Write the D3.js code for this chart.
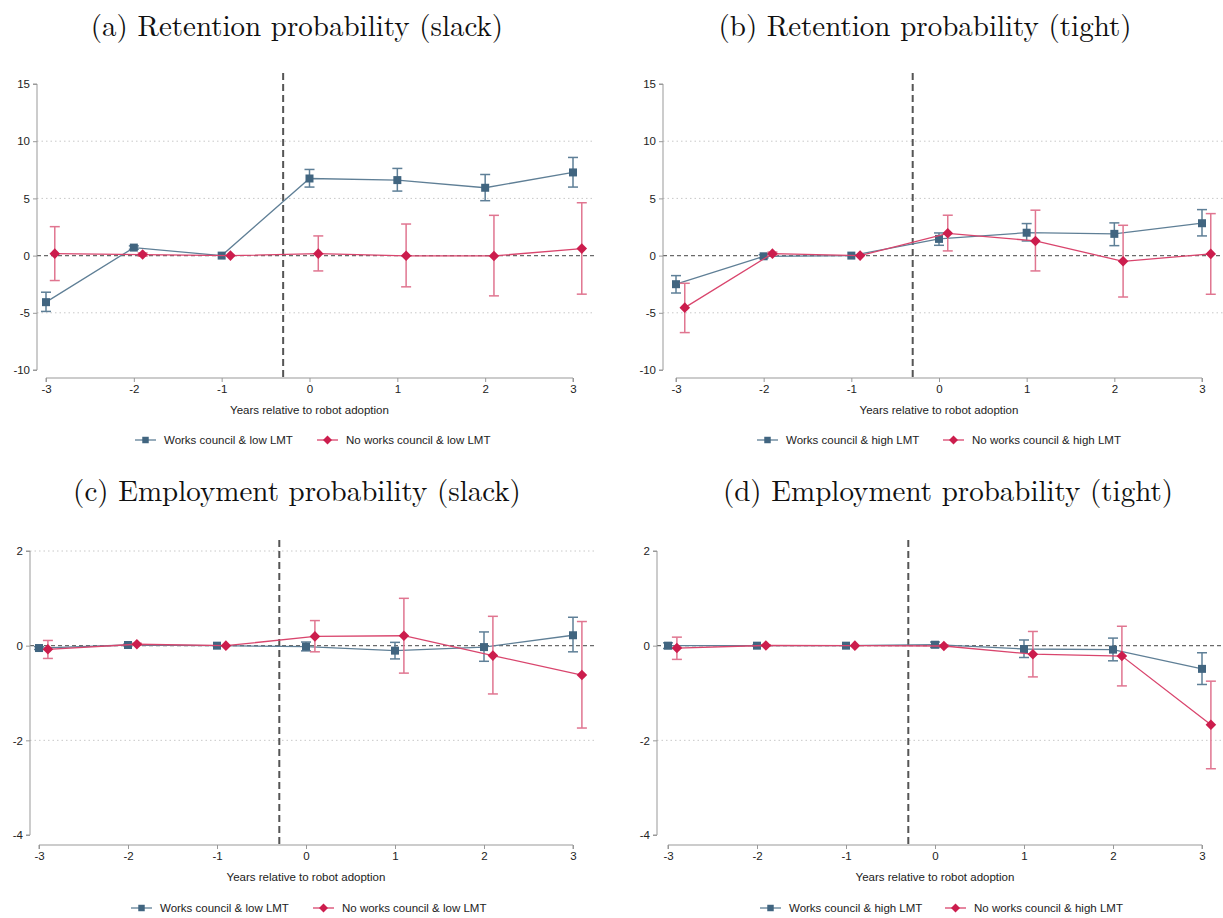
<!DOCTYPE html>
<html><head><meta charset="utf-8">
<script src="https://cdn.jsdelivr.net/npm/d3@7"></script>
<style>body{margin:0;background:#fff}svg{display:block}</style>
</head><body>
<svg id="c" width="1223" height="918"></svg>
<script>
// ---------- data ----------
const years = [-3, -2, -1, 0, 1, 2, 3];
const xTickLabels = ["-3", "-2", "-1", "0", "1", "2", "3"];
const ticksRet = [15, 10, 5, 0, -5, -10];
const ticksEmp = [2, 0, -2, -4];
const titles = ["(a) Retention probability (slack)", "(b) Retention probability (tight)",
                "(c) Employment probability (slack)", "(d) Employment probability (tight)"];
const legendBlue = ["Works council & low LMT", "Works council & high LMT", "Works council & low LMT", "Works council & high LMT"];
const legendRed = ["No works council & low LMT", "No works council & high LMT", "No works council & low LMT", "No works council & high LMT"];
const xTitle = "Years relative to robot adoption";
const adoptionLine = -0.3;

// (a) retention slack
const aBlue   = [-4.07, 0.70, 0, 6.74, 6.60, 5.93, 7.27];
const aBlueLo = [-4.88, 0.55, 0, 5.99, 5.64, 4.80, 5.99];
const aBlueHi = [-3.20, 0.85, 0, 7.53, 7.62, 7.09, 8.58];
const aRed    = [0.17, 0.09, 0, 0.17, -0.02, -0.03, 0.61];
const aRedLo  = [-2.18, -0.05, 0, -1.34, -2.73, -3.52, -3.37];
const aRedHi  = [2.53, 0.23, 0, 1.72, 2.76, 3.52, 4.62];
// (b) retention tight
const bBlue   = [-2.50, -0.06, 0, 1.46, 2.00, 1.90, 2.83];
const bBlueLo = [-3.27, -0.20, 0, 0.90, 1.28, 0.87, 1.72];
const bBlueHi = [-1.75, 0.08, 0, 1.98, 2.80, 2.86, 4.02];
const bRed    = [-4.55, 0.17, 0, 1.95, 1.28, -0.50, 0.15];
const bRedLo  = [-6.73, 0.03, 0, 0.41, -1.34, -3.62, -3.38];
const bRedHi  = [-2.42, 0.31, 0, 3.53, 3.97, 2.65, 3.67];
// (c) employment slack
const cBlue   = [-0.05, 0.014, 0, -0.02, -0.105, -0.03, 0.22];
const cBlueLo = [-0.08, 0.0, 0, -0.11, -0.28, -0.33, -0.13];
const cBlueHi = [-0.02, 0.03, 0, 0.077, 0.07, 0.29, 0.60];
const cRed    = [-0.077, 0.03, 0, 0.196, 0.21, -0.21, -0.62];
const cRedLo  = [-0.27, 0.01, 0, -0.13, -0.58, -1.02, -1.74];
const cRedHi  = [0.11, 0.05, 0, 0.53, 1.00, 0.62, 0.51];
// (d) employment tight
const dBlue   = [0.0, 0.0, 0, 0.02, -0.07, -0.084, -0.49];
const dBlueLo = [-0.06, -0.01, 0, -0.04, -0.25, -0.32, -0.82];
const dBlueHi = [0.06, 0.01, 0, 0.077, 0.12, 0.16, -0.15];
const dRed    = [-0.05, 0.005, 0, -0.007, -0.18, -0.22, -1.67];
const dRedLo  = [-0.29, -0.01, 0, -0.02, -0.66, -0.85, -2.60];
const dRedHi  = [0.18, 0.02, 0, 0.01, 0.30, 0.41, -0.75];

// ---------- layout ----------
const panels = [
  {title: titles[0], blue: [aBlue, aBlueLo, aBlueHi], red: [aRed, aRedLo, aRedHi], ticks: ticksRet, grid: [10, 5, -5],
   x0: 46, x1: 573, yAxisX: 37, yT: 84, yB: 370, xAxisY: 378, gridR: 595, vTop: 73, titleX: 297, titleY: 36, legY: 440,
   legB: 135, legR: 317},
  {title: titles[1], blue: [bBlue, bBlueLo, bBlueHi], red: [bRed, bRedLo, bRedHi], ticks: ticksRet, grid: [10, 5, -5],
   x0: 676, x1: 1202, yAxisX: 663, yT: 84, yB: 370, xAxisY: 378, gridR: 1223, vTop: 73, titleX: 925, titleY: 36, legY: 440,
   legB: 757, legR: 943},
  {title: titles[2], blue: [cBlue, cBlueLo, cBlueHi], red: [cRed, cRedLo, cRedHi], ticks: ticksEmp, grid: [2, -2],
   x0: 39, x1: 573, yAxisX: 30, yT: 551, yB: 835, xAxisY: 845, gridR: 595, vTop: 540, titleX: 297, titleY: 501, legY: 908,
   legB: 131, legR: 313},
  {title: titles[3], blue: [dBlue, dBlueLo, dBlueHi], red: [dRed, dRedLo, dRedHi], ticks: ticksEmp, grid: [-2],
   x0: 668, x1: 1202, yAxisX: 657, yT: 551, yB: 835, xAxisY: 845, gridR: 1223, vTop: 540, titleX: 948, titleY: 501, legY: 908,
   legB: 760, legR: 945}
];
const BLUE = {mark: "#416580", line: "#5f7f96", ci: "#5e7f97"};
const RED = {mark: "#cc1d4d", line: "#d9456d", ci: "#e07590"};
const sans = "'Liberation Sans', Arial, sans-serif";
const svg = d3.select("#c");

panels.forEach((p, i) => {
  const g = svg.append("g");
  const x = d3.scaleLinear().domain([-3, 3]).range([p.x0, p.x1]);
  const t = p.ticks;
  const y = d3.scaleLinear().domain([t[t.length - 1], t[0]]).range([p.yB, p.yT]);

  // title
  g.append("text").attr("x", p.titleX).attr("y", p.titleY).attr("text-anchor", "middle")
    .attr("font-family", "'Latin Modern Roman','CMU Serif','Liberation Serif',serif").attr("font-size", 29)
    .attr("fill", "#111").text(p.title);

  // gridlines
  g.selectAll(".grid").data(p.grid).join("line")
    .attr("x1", p.yAxisX).attr("x2", p.gridR).attr("y1", d => y(d)).attr("y2", d => y(d))
    .attr("stroke", "#c8c8c8").attr("stroke-width", 1).attr("stroke-dasharray", "1.5,3");
  // zero line
  g.append("line").attr("x1", p.yAxisX).attr("x2", p.gridR).attr("y1", y(0)).attr("y2", y(0))
    .attr("stroke", "#6a6a6a").attr("stroke-width", 1.1).attr("stroke-dasharray", "4,3");

  // y axis
  const ya = d3.axisLeft(y).tickValues(t).tickSize(4).tickPadding(3).tickFormat(d3.format("d"));
  const yg = g.append("g").attr("transform", `translate(${p.yAxisX},0)`).call(ya);
  yg.select(".domain").attr("stroke", "#999").attr("d", `M-4,${y(t[0])}H0V${y(t[t.length - 1])}H-4`);
  yg.selectAll(".tick line").attr("stroke", "#999");
  yg.selectAll("text").attr("font-family", sans).attr("font-size", 11.5).attr("fill", "#222").text(d => String(d));

  // x axis
  const xa = d3.axisBottom(x).tickValues(years).tickSize(4).tickPadding(3).tickFormat((d, k) => xTickLabels[k]);
  const xg = g.append("g").attr("transform", `translate(0,${p.xAxisY})`).call(xa);
  xg.select(".domain").attr("stroke", "#999").attr("d", `M${x(-3)},4V0H${x(3)}V4`);
  xg.selectAll(".tick line").attr("stroke", "#999");
  xg.selectAll("text").attr("font-family", sans).attr("font-size", 11.5).attr("fill", "#222");
  g.append("text").attr("x", (x(-3) + x(3)) / 2).attr("y", p.xAxisY + 36).attr("text-anchor", "middle")
    .attr("font-family", sans).attr("font-size", 11.5).attr("fill", "#222").text(xTitle);

  // adoption line
  g.append("line").attr("x1", x(adoptionLine)).attr("x2", x(adoptionLine)).attr("y1", p.vTop).attr("y2", p.xAxisY)
    .attr("stroke", "#555").attr("stroke-width", 2).attr("stroke-dasharray", "7,4");

  function series(vals, off, col, shape) {
    const [m, lo, hi] = vals;
    const pts = years.map((yr, k) => ({x: x(yr + off), y: y(m[k]), lo: y(lo[k]), hi: y(hi[k])}));
    g.append("path").attr("d", d3.line().x(d => d.x).y(d => d.y)(pts))
      .attr("fill", "none").attr("stroke", col.line).attr("stroke-width", 1.3);
    const eb = g.append("g").attr("stroke", col.ci).attr("stroke-width", 1.5).attr("fill", "none");
    pts.forEach(d => {
      if (Math.abs(d.lo - d.hi) < 0.5) return;
      eb.append("line").attr("x1", d.x).attr("x2", d.x).attr("y1", d.lo).attr("y2", d.hi);
      eb.append("line").attr("x1", d.x - 5).attr("x2", d.x + 5).attr("y1", d.lo).attr("y2", d.lo);
      eb.append("line").attr("x1", d.x - 5).attr("x2", d.x + 5).attr("y1", d.hi).attr("y2", d.hi);
    });
    const sym = d3.symbol().type(d3.symbolSquare).size(shape === "sq" ? 64 : 56);
    g.selectAll(null).data(pts).join("path").attr("d", sym)
      .attr("transform", d => shape === "sq" ? `translate(${d.x},${d.y})` : `translate(${d.x},${d.y}) rotate(45)`)
      .attr("fill", col.mark);
  }
  series(p.blue, 0, BLUE, "sq");
  series(p.red, 0.1, RED, "dia");

  // legend
  function leg(x0, col, shape, label) {
    const lg = g.append("g");
    lg.append("line").attr("x1", x0).attr("x2", x0 + 21).attr("y1", p.legY).attr("y2", p.legY)
      .attr("stroke", col.line).attr("stroke-width", 1.3);
    const sym = d3.symbol().type(d3.symbolSquare).size(shape === "sq" ? 42 : 40);
    lg.append("path").attr("d", sym)
      .attr("transform", `translate(${x0 + 10.5},${p.legY})` + (shape === "sq" ? "" : " rotate(45)"))
      .attr("fill", col.mark);
    lg.append("text").attr("x", x0 + 29).attr("y", p.legY + 4).attr("font-family", sans).attr("font-size", 11.5)
      .attr("fill", "#222").text(label);
  }
  leg(p.legB, BLUE, "sq", legendBlue[i]);
  leg(p.legR, RED, "dia", legendRed[i]);
});
</script>
</body></html>
